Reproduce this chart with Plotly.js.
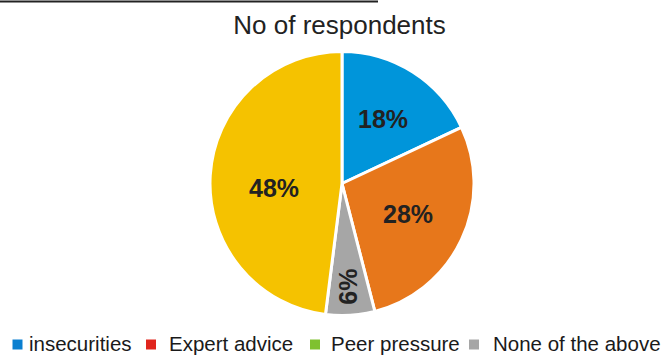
<!DOCTYPE html>
<html>
<head>
<meta charset="utf-8">
<script src="https://cdn.plot.ly/plotly-3.0.1.min.js"></script>
<style>html,body{margin:0;padding:0;background:#fff;}#chart{width:665px;height:356px;}</style>
</head>
<body>
<div id="chart"></div>
<script>
var categories = ["insecurities", "Expert advice", "None of the above", "Peer pressure"];
var values = [18, 28, 6, 48];
var sliceColors = ["#0095da", "#e7771b", "#a6a6a6", "#f5c200"];
var legendLabels = ["insecurities", "Expert advice", "Peer pressure", "None of the above"];
var legendColors = ["#0a7fd0", "#e0251d", "#7fc12f", "#a6a6a6"];
var legendSquareX = [12.5, 146, 310, 469];
var legendTextX = [26.5, 167, 329, 491];

var W = 665, H = 356;
var cx = 342, cy = 183.5, r = 132;
var labelRadius = [0.58, 0.55, 0.78, 0.52];
var labelAngleOffset = [0, 0, 0, -7.5];
var labelAngle = [0, 0, -90, 0];

var trace = {
  type: "pie",
  labels: categories,
  values: values,
  sort: false,
  direction: "clockwise",
  rotation: 0,
  marker: {colors: sliceColors, line: {color: "#ffffff", width: 3}},
  textinfo: "none",
  hoverinfo: "label+percent",
  showlegend: false,
  domain: {x: [(cx - r) / W, (cx + r) / W], y: [1 - (cy + r) / H, 1 - (cy - r) / H]}
};

var shapes = [
  {type: "line", xref: "paper", yref: "paper", x0: 0, x1: 378 / W, y0: 1 - 1.5 / H, y1: 1 - 1.5 / H,
   line: {color: "#222222", width: 2}}
];
var annotations = [];

// slice labels placed along each slice's mid angle (computed from the data)
var total = values.reduce(function (a, b) { return a + b; }, 0);
var cum = 0;
for (var k = 0; k < values.length; k++) {
  var mid = (cum + values[k] / 2) / total * 2 * Math.PI + labelAngleOffset[k] * Math.PI / 180;
  cum += values[k];
  var rr = labelRadius[k] * r;
  var px = cx + rr * Math.sin(mid);
  var py = cy - rr * Math.cos(mid);
  annotations.push({xref: "paper", yref: "paper", x: px / W, y: 1 - py / H,
    xanchor: "center", yanchor: "middle", showarrow: false, textangle: labelAngle[k],
    text: Math.round(values[k] / total * 100) + "%",
    font: {family: "Liberation Sans, Arial, sans-serif", size: 25, color: "#222222", weight: "bold"}});
}

for (var i = 0; i < legendLabels.length; i++) {
  shapes.push({type: "rect", xref: "paper", yref: "paper",
    x0: legendSquareX[i] / W, x1: (legendSquareX[i] + 10) / W,
    y0: 1 - 349.5 / H, y1: 1 - 339.5 / H,
    fillcolor: legendColors[i], line: {width: 0}});
  annotations.push({xref: "paper", yref: "paper", x: legendTextX[i] / W, y: 1 - 343.5 / H,
    xanchor: "left", yanchor: "middle", showarrow: false, text: legendLabels[i],
    font: {family: "Liberation Sans, Arial, sans-serif", size: 20.5, color: "#1a1a1a"}});
}

var layout = {
  width: W, height: H,
  margin: {l: 0, r: 0, t: 0, b: 0},
  paper_bgcolor: "#ffffff",
  title: {text: "No of respondents", x: 339.5 / W, xanchor: "center", xref: "paper",
          y: 1 - 25 / H, yanchor: "middle", yref: "paper",
          font: {family: "Liberation Sans, Arial, sans-serif", size: 26, color: "#222222"}},
  shapes: shapes,
  annotations: annotations,
  showlegend: false
};

Plotly.newPlot("chart", [trace], layout, {displayModeBar: false, staticPlot: true});
</script>
</body>
</html>
